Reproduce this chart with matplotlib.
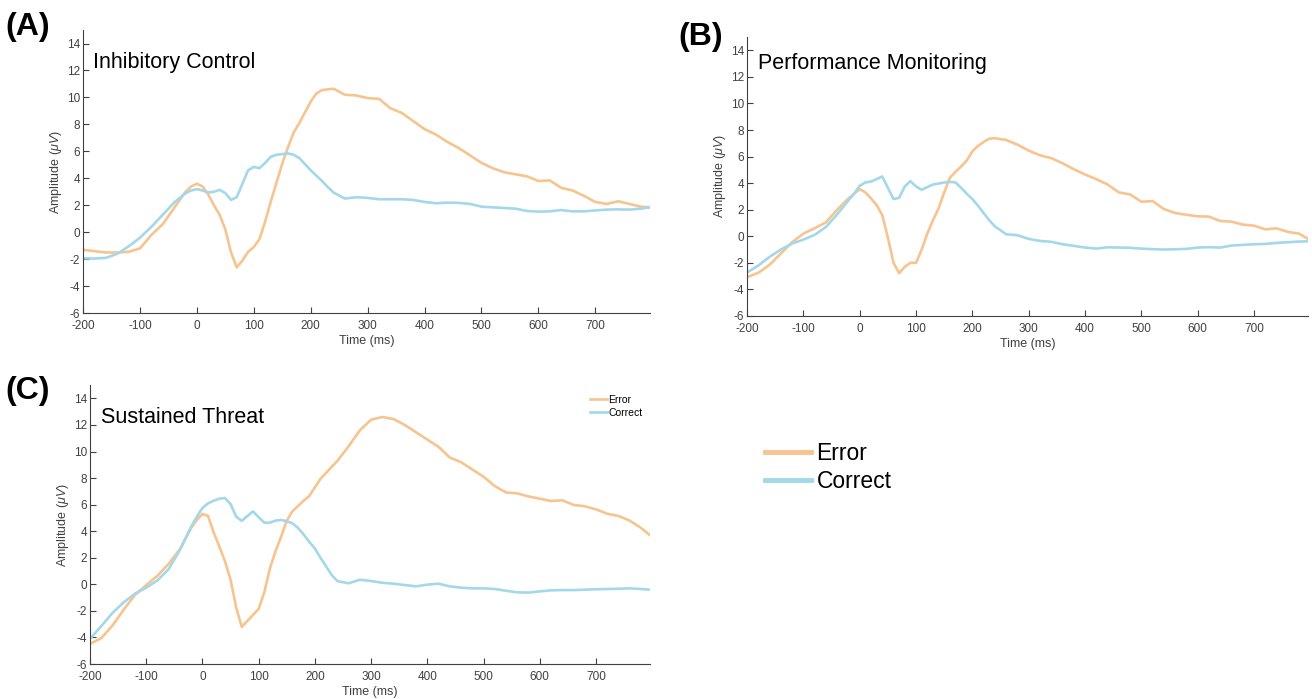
import matplotlib
matplotlib.use("Agg")
import matplotlib.pyplot as plt
from matplotlib.lines import Line2D

plt.rcParams['font.family'] = ['Liberation Sans', 'DejaVu Sans']
plt.rcParams['mathtext.fontset'] = 'custom'
plt.rcParams['mathtext.it'] = 'Liberation Sans:italic'
plt.rcParams['mathtext.rm'] = 'Liberation Sans'
plt.rcParams['axes.unicode_minus'] = False

# time grid (ms), shared by all panels
time = [-200, -180, -160, -140, -120, -100, -80, -60, -40, -20, -10, 0, 10, 20, 30, 40,
        50, 60, 70, 80, 90, 100, 110, 120, 130, 140, 150, 160, 170, 180, 190, 200, 210,
        220, 230, 240, 260, 280, 300, 320, 340, 360, 380, 400, 420, 440, 460, 480, 500,
        520, 540, 560, 580, 600, 620, 640, 660, 680, 700, 720, 740, 760, 780, 796]

# (A) Inhibitory Control
ic_error = [-1.3, -1.4, -1.5, -1.5, -1.45, -1.2, -0.2, 0.6, 1.8, 3.0, 3.4, 3.6, 3.4, 2.8,
            2.0, 1.3, 0.2, -1.5, -2.6, -2.1, -1.45, -1.1, -0.5, 0.8, 2.3, 3.7, 5.1, 6.3,
            7.4, 8.1, 8.9, 9.7, 10.3, 10.55, 10.6, 10.65, 10.2, 10.15, 9.95, 9.9, 9.2,
            8.85, 8.25, 7.65, 7.25, 6.7, 6.25, 5.7, 5.15, 4.75, 4.45, 4.3, 4.15, 3.8, 3.85,
            3.3, 3.1, 2.7, 2.25, 2.1, 2.3, 2.1, 1.9, 1.85]
ic_correct = [-1.93, -1.95, -1.9, -1.6, -1.05, -0.4, 0.4, 1.3, 2.2, 2.9, 3.1, 3.2, 3.1,
              2.95, 3.0, 3.15, 2.9, 2.4, 2.6, 3.6, 4.6, 4.85, 4.75, 5.15, 5.6, 5.75, 5.8,
              5.85, 5.75, 5.5, 5.05, 4.6, 4.2, 3.8, 3.35, 2.95, 2.5, 2.6, 2.55, 2.45, 2.45,
              2.45, 2.4, 2.25, 2.15, 2.2, 2.18, 2.1, 1.9, 1.85, 1.8, 1.75, 1.58, 1.53, 1.55,
              1.65, 1.55, 1.55, 1.62, 1.68, 1.7, 1.68, 1.75, 1.85]

# (B) Performance Monitoring
pm_error = [-3.08, -2.75, -2.15, -1.3, -0.45, 0.2, 0.6, 1.05, 2.0, 2.85, 3.2, 3.55, 3.3,
            2.85, 2.35, 1.6, -0.1, -2.0, -2.78, -2.3, -2.0, -2.0, -1.0, 0.2, 1.2, 2.1, 3.3,
            4.4, 4.85, 5.25, 5.7, 6.4, 6.8, 7.1, 7.35, 7.38, 7.25, 6.9, 6.45, 6.1, 5.88,
            5.5, 5.05, 4.65, 4.3, 3.9, 3.3, 3.15, 2.6, 2.65, 2.05, 1.75, 1.62, 1.5, 1.48,
            1.15, 1.1, 0.88, 0.8, 0.52, 0.6, 0.33, 0.2, -0.2]
pm_correct = [-2.73, -2.2, -1.55, -1.0, -0.55, -0.25, 0.1, 0.7, 1.65, 2.7, 3.2, 3.8, 4.05,
              4.12, 4.3, 4.5, 3.65, 2.8, 2.9, 3.75, 4.15, 3.75, 3.5, 3.7, 3.9, 3.97, 4.05,
              4.1, 4.05, 3.65, 3.2, 2.8, 2.3, 1.75, 1.2, 0.75, 0.15, 0.08, -0.2, -0.35,
              -0.42, -0.6, -0.72, -0.85, -0.93, -0.83, -0.85, -0.87, -0.93, -0.97, -1.0,
              -0.98, -0.95, -0.85, -0.82, -0.85, -0.7, -0.65, -0.6, -0.58, -0.5, -0.45,
              -0.4, -0.38]

# (C) Sustained Threat
st_error = [-4.48, -4.05, -3.1, -1.9, -0.8, -0.05, 0.65, 1.55, 2.65, 4.25, 4.85, 5.3, 5.15,
            3.9, 2.85, 1.75, 0.35, -1.75, -3.2, -2.75, -2.3, -1.85, -0.6, 1.2, 2.5, 3.6,
            4.8, 5.5, 5.9, 6.3, 6.65, 7.3, 7.95, 8.4, 8.85, 9.3, 10.4, 11.6, 12.4, 12.6,
            12.45, 12.0, 11.45, 10.9, 10.35, 9.55, 9.2, 8.65, 8.1, 7.4, 6.92, 6.85, 6.62,
            6.45, 6.28, 6.33, 5.98, 5.88, 5.65, 5.32, 5.15, 4.8, 4.25, 3.7]
st_correct = [-4.1, -3.15, -2.15, -1.35, -0.7, -0.25, 0.3, 1.15, 2.6, 4.35, 5.1, 5.75, 6.1,
              6.3, 6.45, 6.5, 6.05, 5.1, 4.78, 5.15, 5.5, 5.05, 4.65, 4.65, 4.8, 4.85, 4.75,
              4.6, 4.25, 3.75, 3.2, 2.7, 2.0, 1.35, 0.7, 0.25, 0.08, 0.35, 0.25, 0.12, 0.05,
              -0.05, -0.15, -0.02, 0.05, -0.15, -0.25, -0.3, -0.3, -0.35, -0.48, -0.6,
              -0.62, -0.53, -0.45, -0.43, -0.43, -0.4, -0.37, -0.35, -0.33, -0.3, -0.35,
              -0.4]

err_color = '#f7c48f'
cor_color = '#a3d8ea'
axis_color = '#404040'

fig = plt.figure(figsize=(13.12, 6.99), dpi=100)

def make_panel(rect, err, cor, title, title_xy):
    ax = fig.add_axes(rect)
    ax.plot(time, err, color=err_color, lw=1.9, label='Error')
    ax.plot(time, cor, color=cor_color, lw=1.9, label='Correct')
    ax.set_xlim(-200, 796)
    ax.set_ylim(-6, 15)
    ax.set_xticks(range(-200, 800, 100))
    ax.set_yticks(range(-6, 15, 2))
    for s in ['top', 'right']:
        ax.spines[s].set_visible(False)
    for s in ['left', 'bottom']:
        ax.spines[s].set_color(axis_color)
        ax.spines[s].set_linewidth(0.8)
    ax.tick_params(direction='in', length=4, width=0.8, colors=axis_color,
                   labelsize=8.5, pad=2)
    ax.tick_params(axis='x', pad=5)
    ax.set_xlabel('Time (ms)', fontsize=9, color=axis_color, labelpad=2)
    ax.set_ylabel('Amplitude ($\\mu V$)', fontsize=9, color=axis_color, labelpad=2)
    ax.text(title_xy[0], title_xy[1], title, fontsize=15.5, va='center', ha='left')
    return ax

ax_a = make_panel([0.0633, 0.552, 0.4321, 0.405], ic_error, ic_correct,
                  'Inhibitory Control', (-182, 12.6))
ax_b = make_panel([0.5694, 0.548, 0.4276, 0.399], pm_error, pm_correct,
                  'Performance Monitoring', (-180, 13.0))
ax_c = make_panel([0.0686, 0.050, 0.4268, 0.399], st_error, st_correct,
                  'Sustained Threat', (-180, 12.55))

fig.text(0.004, 0.961, '(A)', fontsize=23, fontweight='bold', va='center', ha='left')
fig.text(0.517, 0.947, '(B)', fontsize=23, fontweight='bold', va='center', ha='left')
fig.text(0.004, 0.441, '(C)', fontsize=23, fontweight='bold', va='center', ha='left')

# small legend inside panel C
ax_c.legend(loc='upper right', bbox_to_anchor=(0.4895, 0.435), bbox_transform=fig.transFigure,
            frameon=False, fontsize=7.5, handlelength=1.6, handletextpad=0.15,
            labelspacing=0.3, borderpad=0, borderaxespad=0)

# large stand-alone legend
handles = [Line2D([], [], color=err_color, lw=3.5),
           Line2D([], [], color=cor_color, lw=3.5)]
fig.legend(handles, ['Error', 'Correct'], loc='center left', bbox_to_anchor=(0.583, 0.331),
           frameon=False, fontsize=16.5, handlelength=2.0, handletextpad=0.25,
           labelspacing=0.22, borderpad=0, borderaxespad=0)

fig.savefig('out.png', dpi=100, facecolor='white')
